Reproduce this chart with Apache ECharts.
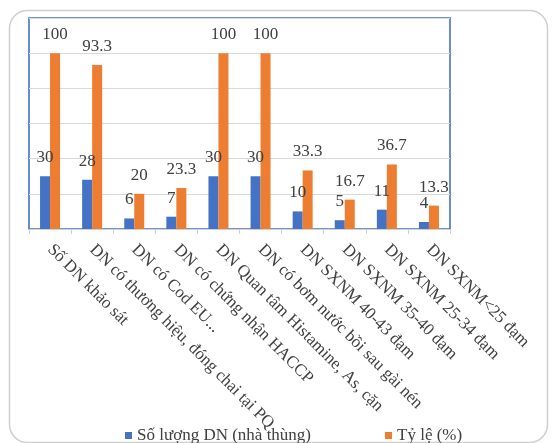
<!DOCTYPE html>
<html>
<head>
<meta charset="utf-8">
<script src="https://cdn.jsdelivr.net/npm/echarts@6/dist/echarts.min.js"></script>
<style>
html,body{margin:0;padding:0;background:#fff;}
#c{width:553px;height:443px;}
</style>
</head>
<body>
<div id="c"></div>
<script>
var categories = [
  "Số DN khảo sát",
  "DN có thương hiệu, đóng chai tại PQ",
  "DN có Cod EU...",
  "DN có chứng nhận HACCP",
  "DN Quan tâm Histamine, As, cặn",
  "DN có bơm nước bồi sau gài nén",
  "DN SXNM 40-43 đạm",
  "DN SXNM 35-40 đạm",
  "DN SXNM 25-34 đạm",
  "DN SXNM<25 đạm"
];
var seriesNames = ["Số lượng DN (nhà thùng)", "Tỷ lệ (%)"];
var countValues = [30, 28, 6, 7, 30, 30, 10, 5, 11, 4];
var ratioValues = [100, 93.3, 20, 23.3, 100, 100, 33.3, 16.7, 36.7, 13.3];

var font = "'Liberation Serif', 'Times New Roman', serif";
var chart = echarts.init(document.getElementById('c'), null, {renderer: 'canvas'});
var labelStyle = {
  show: true, position: 'top', distance: 10,
  fontFamily: font, fontSize: 17, color: '#404040'
};
chart.setOption({
  animation: false,
  backgroundColor: '#fff',
  graphic: [{
    type: 'rect', left: 7, top: 8, z: -10,
    shape: {width: 538, height: 432, r: 18},
    style: {fill: 'none', stroke: '#cfcfcf', lineWidth: 1.5}
  }],
  grid: {
    left: 29, right: 103, top: 18, bottom: 214,
    show: true, borderColor: '#4472C4', borderWidth: 1.6, backgroundColor: 'transparent'
  },
  legend: {
    data: seriesNames,
    left: 120, top: 422,
    itemWidth: 7, itemHeight: 7, itemGap: 74,
    icon: 'rect',
    textStyle: {fontFamily: font, fontSize: 17, color: '#404040'}
  },
  xAxis: {
    type: 'category',
    data: categories,
    axisLine: {lineStyle: {color: '#d0d0d0', width: 1}},
    axisTick: {show: true, length: 5, lineStyle: {color: '#d0d0d0'}},
    axisLabel: {
      rotate: -45, interval: 0, margin: 18,
      fontFamily: font, fontSize: 17, color: '#404040'
    }
  },
  yAxis: {
    type: 'value', min: 0, max: 120, interval: 20,
    axisLabel: {show: false},
    axisLine: {show: false},
    axisTick: {show: false},
    splitLine: {lineStyle: {color: '#d9d9d9', width: 1.2}}
  },
  series: [
    {
      name: seriesNames[0], type: 'bar', data: countValues,
      barWidth: 10, barGap: '0%',
      itemStyle: {color: '#4472C4'},
      label: labelStyle
    },
    {
      name: seriesNames[1], type: 'bar', data: ratioValues,
      barWidth: 10, barGap: '0%',
      itemStyle: {color: '#ED7D31'},
      label: labelStyle
    }
  ]
});
</script>
</body>
</html>
